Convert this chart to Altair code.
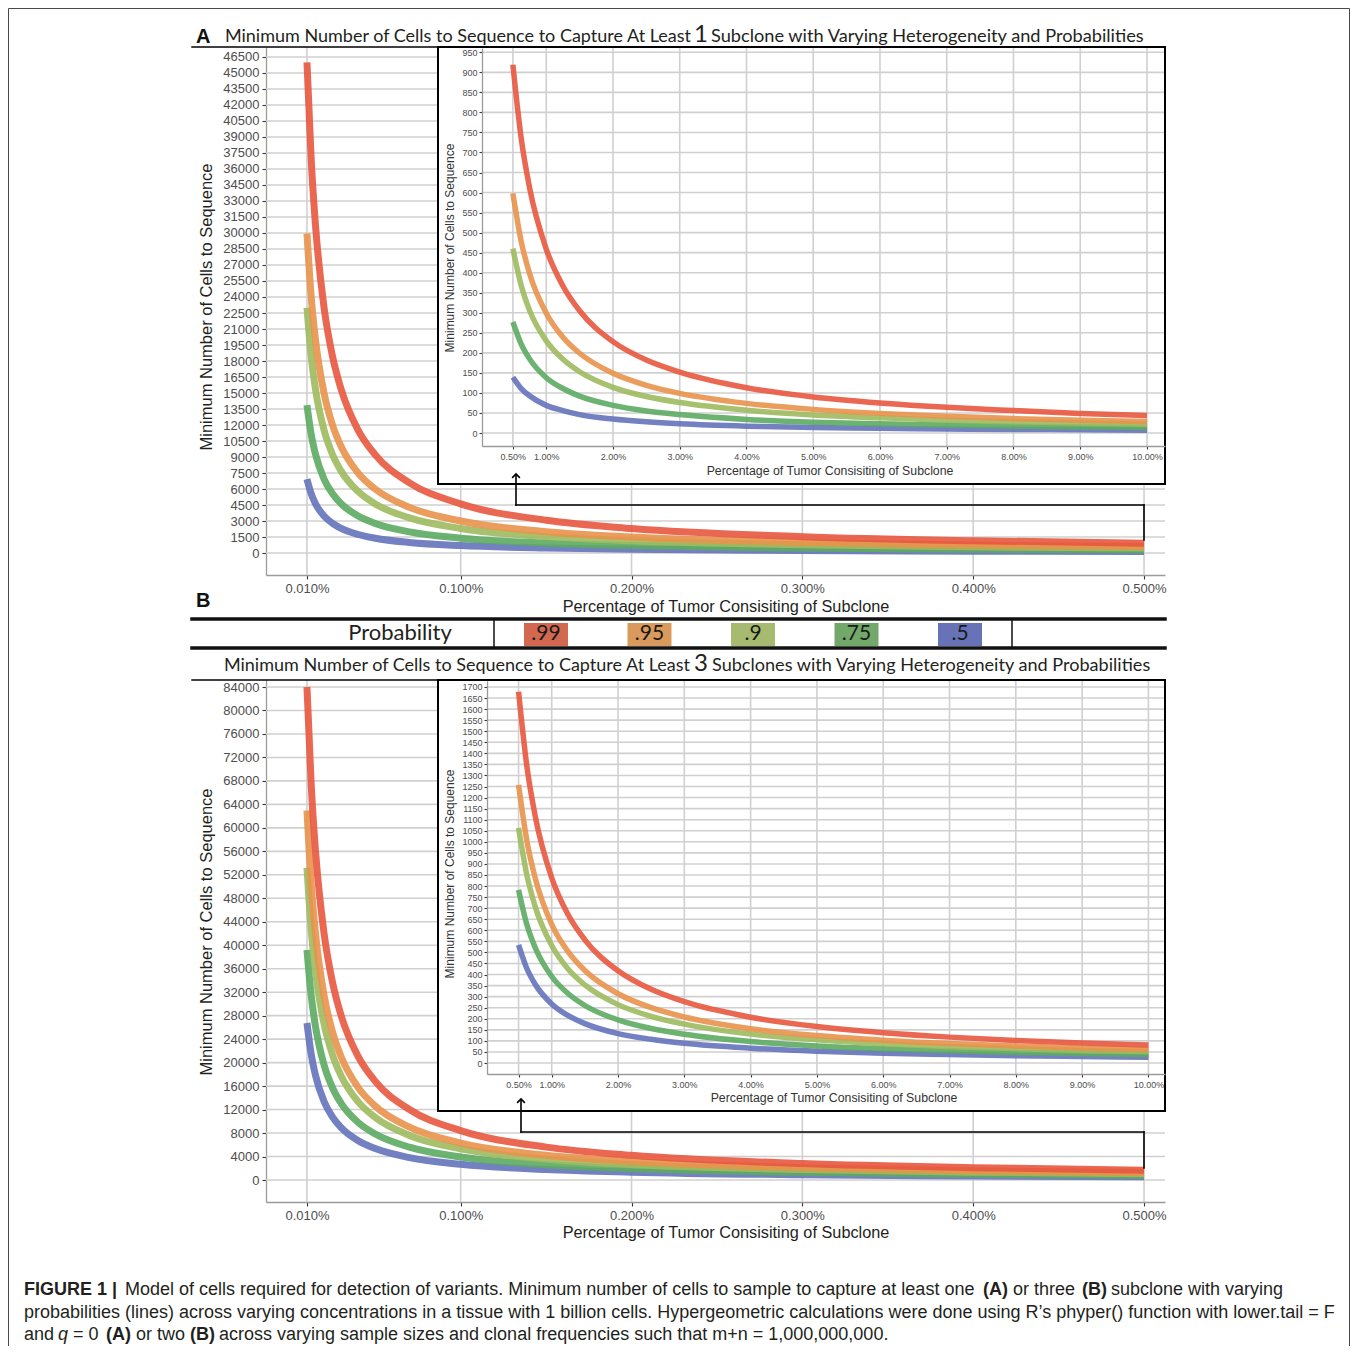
import altair as alt
import pandas as pd

# ---------------- data ----------------
probs = [".99", ".95", ".9", ".75", ".5"]
line_colors = ["#E8573F", "#E8924B", "#9DBA5E", "#5CAA62", "#6472BA"]
legend_colors = ["#D2684F", "#D99A5B", "#A6BB70", "#73A86B", "#6773B6"]

# x positions (percent of tumour) at which the curves were read
x_main = [0.01, 0.0125, 0.015, 0.02, 0.025, 0.03, 0.04, 0.05, 0.07, 0.1, 0.15, 0.2, 0.3, 0.4, 0.5]
x_inset = [0.5, 0.625, 0.75, 1, 1.25, 1.5, 2, 2.5, 3, 4, 5, 6, 7, 8, 9, 10]

# Panel A, main plot (at least 1 subclone)
a_main_99 = [46000, 36800, 30700, 23000, 18400, 15350, 11500, 9200, 6580, 4600, 3070, 2300, 1535, 1150, 920]
a_main_95 = [29950, 23950, 19970, 14980, 11980, 9990, 7490, 5990, 4280, 3000, 2000, 1500, 1000, 750, 600]
a_main_90 = [23000, 18420, 15350, 11510, 9210, 7680, 5760, 4600, 3290, 2300, 1535, 1150, 770, 575, 460]
a_main_75 = [13860, 11090, 9240, 6930, 5545, 4620, 3465, 2770, 1980, 1390, 925, 695, 462, 347, 277]
a_main_50 = [6930, 5545, 4620, 3465, 2775, 2310, 1735, 1385, 990, 695, 462, 347, 231, 174, 139]

# Panel A, inset
a_in_99 = [919, 735, 612, 459, 367, 305, 228, 182, 152, 113, 90, 75, 64, 56, 49, 44]
a_in_95 = [598, 478, 398, 299, 239, 199, 149, 119, 99, 74, 59, 49, 42, 36, 32, 29]
a_in_90 = [460, 368, 306, 230, 184, 153, 114, 91, 76, 57, 45, 38, 32, 28, 25, 22]
a_in_75 = [277, 222, 185, 138, 111, 92, 69, 55, 46, 34, 27, 23, 20, 17, 15, 14]
a_in_50 = [139, 111, 93, 69, 56, 46, 35, 28, 23, 17, 14, 12, 10, 9, 8, 7]

# Panel B, main plot (at least 3 subclones)
b_main_99 = [84000, 67250, 56040, 42030, 33620, 28020, 21020, 16810, 12010, 8410, 5605, 4205, 2800, 2100, 1680]
b_main_95 = [62950, 50370, 41970, 31480, 25180, 20990, 15740, 12590, 8995, 6300, 4200, 3150, 2100, 1575, 1260]
b_main_90 = [53200, 42580, 35480, 26610, 21290, 17740, 13310, 10640, 7600, 5320, 3550, 2660, 1775, 1330, 1065]
b_main_75 = [39200, 31360, 26130, 19600, 15680, 13070, 9800, 7840, 5600, 3920, 2615, 1960, 1307, 980, 785]
b_main_50 = [26750, 21390, 17830, 13370, 10700, 8915, 6685, 5350, 3820, 2675, 1783, 1337, 891, 669, 535]

# Panel B, inset
b_in_99 = [1678, 1342, 1118, 837, 669, 557, 417, 333, 277, 207, 165, 137, 117, 102, 90, 81]
b_in_95 = [1257, 1005, 837, 627, 502, 418, 313, 250, 208, 155, 124, 103, 88, 77, 68, 61]
b_in_90 = [1063, 850, 708, 531, 424, 353, 264, 211, 176, 131, 105, 87, 74, 65, 57, 52]
b_in_75 = [783, 626, 522, 391, 313, 260, 195, 156, 130, 97, 77, 64, 55, 48, 43, 38]
b_in_50 = [534, 427, 356, 267, 214, 178, 133, 107, 89, 67, 53, 44, 38, 33, 29, 26]

main_x_ticks = [0.01, 0.1, 0.2, 0.3, 0.4, 0.5]
inset_x_ticks = [0.5, 1, 2, 3, 4, 5, 6, 7, 8, 9, 10]
a_main_y_ticks = list(range(0, 46501, 1500))
b_main_y_ticks = list(range(0, 84001, 4000))
a_inset_y_ticks = list(range(0, 951, 50))
b_inset_y_ticks = list(range(0, 1701, 50))

title_left = "Minimum Number of Cells to Sequence to Capture At Least"
title_a_right = "Subclone with Varying Heterogeneity and Probabilities"
title_b_right = "Subclones with Varying Heterogeneity and Probabilities"
y_title = "Minimum Number of Cells to Sequence"
x_title = "Percentage of Tumor Consisiting of Subclone"

# ---------------- layout helpers ----------------
W, H = 1342, 1338
OX, OY = 8, 8


def X(px):
    return px - OX


def Y(py):
    return py - OY


ONE = pd.DataFrame({"k": [0]})
TITLE_FONT = "Lato"
SANS = "Liberation Sans"
INK = "#231f20"


def long_df(xs, series):
    rows = []
    # blue first so that red is drawn on top
    for p in reversed(probs):
        for x, v in zip(xs, series[p]):
            rows.append({"x": x, "v": v, "p": p})
    return pd.DataFrame(rows)


def lin(domain, rng):
    return alt.Scale(domain=domain, range=rng, nice=False, zero=False)


def xaxis(values, fmt, y_px, size, tick, pad, z):
    return alt.Axis(orient="bottom", offset=Y(y_px) - H, values=values,
                    labelExpr=f"format(datum.value, '{fmt}') + '%'", grid=False, title=None,
                    domainColor="#9a9a9a", domainWidth=1.3, tickColor="#333333", tickSize=tick,
                    tickWidth=1.1, labelFont=SANS, labelFontSize=size, labelColor="#4d4d4d",
                    labelPadding=pad, labelFlush=False, labelOverlap=False, zindex=z)


def yaxis(values, x_px, size, tick, pad, z):
    return alt.Axis(orient="left", offset=-X(x_px), values=values, format="d", grid=False,
                    title=None, domainColor="#9a9a9a", domainWidth=1.3, tickColor="#333333",
                    tickSize=tick, tickWidth=1.1, labelFont=SANS, labelFontSize=size,
                    labelColor="#4d4d4d", labelPadding=pad, labelFlush=False,
                    labelOverlap=False, zindex=z)


def lines(df, sx, sy, ax, ay, width):
    return alt.Chart(df).mark_line(strokeWidth=width, interpolate="monotone", opacity=0.9,
                                   strokeCap="butt").encode(
        x=alt.X("x:Q", scale=sx, axis=ax),
        y=alt.Y("v:Q", scale=sy, axis=ay),
        color=alt.Color("p:N", scale=alt.Scale(domain=probs, range=line_colors), legend=None),
    )


def hgrid(ticks, sy, x1, x2):
    return alt.Chart(pd.DataFrame({"v": ticks})).mark_rule(color="#d0d0d0", strokeWidth=1.6).encode(
        y=alt.Y("v:Q", scale=sy, axis=None), x=alt.value(X(x1)), x2=alt.value(X(x2)))


def vgrid(ticks, sx, y1, y2):
    return alt.Chart(pd.DataFrame({"v": ticks})).mark_rule(color="#d0d0d0", strokeWidth=1.6).encode(
        x=alt.X("v:Q", scale=sx, axis=None), y=alt.value(Y(y1)), y2=alt.value(Y(y2)))


def seg(x1, y1, x2, y2, w=1.6, color="black"):
    if y1 == y2:
        enc = dict(x=alt.value(X(x1)), x2=alt.value(X(x2)), y=alt.value(Y(y1)))
    else:
        enc = dict(x=alt.value(X(x1)), y=alt.value(Y(y1)), y2=alt.value(Y(y2)))
    return alt.Chart(ONE).mark_rule(strokeWidth=w, color=color, strokeCap="square").encode(**enc)


def box(x1, y1, x2, y2, fill="white", stroke="black", sw=2, fill_opacity=1):
    return alt.Chart(ONE).mark_rect(fill=fill, fillOpacity=fill_opacity, stroke=stroke,
                                    strokeWidth=sw).encode(
        x=alt.value(X(x1)), x2=alt.value(X(x2)), y=alt.value(Y(y1)), y2=alt.value(Y(y2)))


def arrowhead(x, y):
    return alt.Chart(ONE).mark_point(shape="M-1,1L0,0L1,1", size=60, filled=False, stroke="black",
                                     strokeWidth=1.6, opacity=1).encode(
        x=alt.value(X(x)), y=alt.value(Y(y)))


def text(t, x, y, size, font=SANS, align="left", weight="normal", style="normal",
         color=INK, angle=0):
    return alt.Chart(pd.DataFrame({"t": [t]})).mark_text(
        align=align, baseline="middle", font=font, fontSize=size, fontWeight=weight,
        fontStyle=style, color=color, angle=angle).encode(
        text="t:N", x=alt.value(X(x)), y=alt.value(Y(y)))


# ---------------- scales ----------------
sx_main = lin([-0.01398, 0.51228], [X(266), X(1165)])
sy_a = lin([-2062, 47437], [Y(575), Y(47)])
sy_b = lin([-3748, 85193], [Y(1202), Y(680)])
sx_ia = lin([0.0375, 10.27], [X(482), X(1165)])
sy_ia = lin([-32.4, 960.7], [Y(446), Y(48)])
sx_ib = lin([0.024, 10.25], [X(487), X(1165)])
sy_ib = lin([-49.7, 1727], [Y(1074), Y(681)])

df_a_main = long_df(x_main, dict(zip(probs, [a_main_99, a_main_95, a_main_90, a_main_75, a_main_50])))
df_a_in = long_df(x_inset, dict(zip(probs, [a_in_99, a_in_95, a_in_90, a_in_75, a_in_50])))
df_b_main = long_df(x_main, dict(zip(probs, [b_main_99, b_main_95, b_main_90, b_main_75, b_main_50])))
df_b_in = long_df(x_inset, dict(zip(probs, [b_in_99, b_in_95, b_in_90, b_in_75, b_in_50])))

layers = []

# outer frame
layers.append(box(8.5, 8.5, 1349.5, 1400, fill="white", stroke="#4a4a4a", sw=1, fill_opacity=0))

# ---------------- panel A ----------------
layers += [
    hgrid(a_main_y_ticks, sy_a, 266, 1165),
    vgrid(main_x_ticks, sx_main, 47, 575),
    lines(df_a_main, sx_main, sy_a,
          xaxis(main_x_ticks, ".3f", 575, 13, 4, 3, 0),
          yaxis(a_main_y_ticks, 266, 13, 4, 3, 0), 7),
    box(438, 47, 1165, 484),
    hgrid(a_inset_y_ticks, sy_ia, 482, 1164),
    vgrid(inset_x_ticks, sx_ia, 48, 446),
    lines(df_a_in, sx_ia, sy_ia,
          xaxis(inset_x_ticks, ".2f", 446, 9, 3, 3, 1),
          yaxis(a_inset_y_ticks, 482, 9, 3, 2, 1), 5.5),
    box(438, 47, 1165, 484, fill="white", fill_opacity=0),
    text(y_title, 450, 248, 12, angle=270, align="center", color="#333333"),
    text(x_title, 830, 471, 12.3, align="center", color="#333333"),
    seg(516, 505, 1144, 505), seg(1144, 505, 1144, 540), seg(516, 505, 516, 475),
    arrowhead(516, 474),
    seg(192, 47, 1165, 47, w=1.5),
    text("A", 196, 37, 20, weight="bold", color="#111111"),
    text(title_left, 691, 37, 18, font=TITLE_FONT, align="right"),
    text("1", 701, 35, 24, font=TITLE_FONT, align="center"),
    text(title_a_right, 711, 37, 18.2, font=TITLE_FONT),
    text(y_title, 207, 307, 16.5, angle=270, align="center"),
    text(x_title, 726, 607, 16.3, align="center"),
]

# ---------------- legend strip ----------------
leg = pd.DataFrame({"p": probs})
leg_x = alt.Scale(type="band", domain=probs, range=[X(524), X(982)], paddingInner=0.575,
                  paddingOuter=0)
layers += [
    text("B", 196, 601, 20, weight="bold", color="#111111"),
    seg(192, 619, 1165, 619, w=3.5, color="#111111"),
    seg(192, 648, 1165, 648, w=3.5, color="#111111"),
    seg(494, 619, 494, 648, w=1.5, color="#111111"),
    seg(1012, 619, 1012, 648, w=1.5, color="#111111"),
    text("Probability", 400, 633, 22, font=TITLE_FONT, align="center"),
    alt.Chart(leg).mark_rect().encode(
        x=alt.X("p:N", scale=leg_x, axis=None, sort=probs),
        y=alt.value(Y(623)), y2=alt.value(Y(646)),
        color=alt.Color("p:N", scale=alt.Scale(domain=probs, range=legend_colors), legend=None)),
    alt.Chart(leg).mark_text(font=TITLE_FONT, fontSize=21, color="#1a1a1a", baseline="middle",
                             align="center").encode(
        x=alt.X("p:N", scale=leg_x, axis=None, sort=probs, bandPosition=0.5),
        y=alt.value(Y(634)), text="p:N"),
]

# ---------------- panel B ----------------
layers += [
    hgrid(b_main_y_ticks, sy_b, 266, 1165),
    vgrid(main_x_ticks, sx_main, 680, 1202),
    lines(df_b_main, sx_main, sy_b,
          xaxis(main_x_ticks, ".3f", 1202, 13, 4, 3, 0),
          yaxis(b_main_y_ticks, 266, 13, 4, 3, 0), 7),
    box(438, 680, 1165, 1111),
    hgrid(b_inset_y_ticks, sy_ib, 487, 1164),
    vgrid(inset_x_ticks, sx_ib, 681, 1074),
    lines(df_b_in, sx_ib, sy_ib,
          xaxis(inset_x_ticks, ".2f", 1074, 9, 3, 3, 1),
          yaxis(b_inset_y_ticks, 487, 9, 3, 2, 1), 5.5),
    box(438, 680, 1165, 1111, fill="white", fill_opacity=0),
    text(y_title, 450, 874, 12, angle=270, align="center", color="#333333"),
    text(x_title, 834, 1098, 12.3, align="center", color="#333333"),
    seg(521, 1132, 1144, 1132), seg(1144, 1132, 1144, 1168), seg(521, 1132, 521, 1100),
    arrowhead(521, 1099),
    seg(192, 680, 1165, 680, w=1.5),
    text(title_left, 690, 666, 18, font=TITLE_FONT, align="right"),
    text("3", 701, 664, 24, font=TITLE_FONT, align="center"),
    text(title_b_right, 712, 666, 18.1, font=TITLE_FONT),
    text(y_title, 207, 932, 16.5, angle=270, align="center"),
    text(x_title, 726, 1233, 16.3, align="center"),
]

# ---------------- caption ----------------
CS = 18
L1, L2, L3 = 1290, 1313, 1335
layers += [
    text("FIGURE 1 |", 24, L1, CS, weight="bold"),
    text("Model of cells required for detection of variants. Minimum number of cells to sample to capture at least one",
         125, L1, CS),
    text("(A)", 983, L1, CS, weight="bold"),
    text("or three", 1013, L1, CS),
    text("(B)", 1082, L1, CS, weight="bold"),
    text("subclone with varying", 1111, L1, CS),
    text("probabilities (lines) across varying concentrations in a tissue with 1 billion cells. "
         "Hypergeometric calculations were done using R\u2019s phyper() function with lower.tail = F",
         24, L2, CS),
    text("and", 24, L3, CS),
    text("q", 58, L3, CS, style="italic"),
    text("= 0", 73, L3, CS),
    text("(A)", 106, L3, CS, weight="bold"),
    text("or two", 136, L3, CS),
    text("(B)", 190, L3, CS, weight="bold"),
    text("across varying sample sizes and clonal frequencies such that m+n = 1,000,000,000.",
         219, L3, CS),
]

chart = alt.layer(*layers).resolve_scale(
    x="independent", y="independent", color="independent"
).resolve_axis(
    x="independent", y="independent"
).properties(
    width=W, height=H, autosize=alt.AutoSizeParams(type="none"), padding=0, background="white"
).configure_view(stroke=None)

chart.save("out.html", embed_options={"renderer": "svg", "actions": False})
